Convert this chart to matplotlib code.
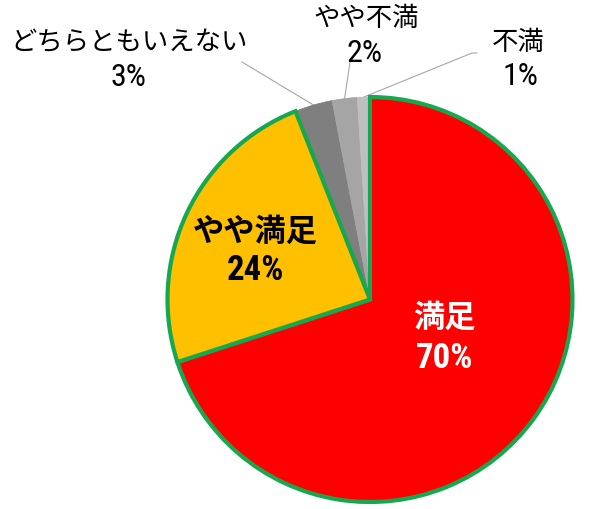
import matplotlib
matplotlib.use("Agg")
import matplotlib.pyplot as plt
import numpy as np
from matplotlib import font_manager

categories = ["満足", "やや満足", "どちらともいえない", "やや不満", "不満"]
values = [70, 24, 3, 2, 1]
pct_labels = ["70%", "24%", "3%", "2%", "1%"]
colors = ["#FF0000", "#FFC000", "#7F7F7F", "#A5A5A5", "#BFBFBF"]

available = {f.name for f in font_manager.fontManager.ttflist}
narrow = None
for n in ["Liberation Sans Narrow", "DejaVu Sans Condensed", "Roboto Condensed", "Open Sans Condensed"]:
    if n in available:
        narrow = n
        break
if narrow is None:
    narrow = "Liberation Sans"
cjk = "Noto Sans CJK JP"
plt.rcParams['font.family'] = [cjk, 'DejaVu Sans']

W, H = 589, 509
fig = plt.figure(figsize=(W / 100, H / 100), dpi=100)
ax = fig.add_axes([0, 0, 1, 1])
cx, cy, R = 370.0, 299.5, 202.5

wedges, _ = ax.pie(values, colors=colors, startangle=90, counterclock=False,
                   radius=1.0, center=(0, 0), frame=True)
ax.axis("off")
ax.set_xlim((0 - cx) / R, (W - cx) / R)
ax.set_ylim((cy - H) / R, (cy - 0) / R)
ax.set_aspect("auto")

green = "#16A84F"
for i, w in enumerate(wedges):
    if i < 2:
        w.set_edgecolor(green)
        w.set_linewidth(3.0)
        w.set_zorder(3)
    else:
        w.set_edgecolor(colors[i])
        w.set_linewidth(0.5)
        w.set_zorder(2)

def px(p, q):
    return ((p - cx) / R, (cy - q) / R)

mids = [np.deg2rad((w.theta1 + w.theta2) / 2) for w in wedges]

name_pos = [px(444, 318), px(255, 232), px(129.5, 43), px(366, 18), px(518, 42)]
pct_pos = [px(444.5, 359), px(255.5, 271), px(128, 77), px(365, 53), px(520, 76)]
inside = [True, True, False, False, False]
txt_colors = ["white", "black", "black", "black", "black"]

for i in range(len(values)):
    if inside[i]:
        fs_n, fs_p, wt = 22.5, 25, "bold"
    else:
        fs_n, fs_p, wt = 19, 23, "normal"
    ax.text(*name_pos[i], categories[i], ha="center", va="center", fontsize=fs_n,
            fontweight=wt, color=txt_colors[i], family=[cjk, 'DejaVu Sans'], zorder=5)
    ax.text(*pct_pos[i], pct_labels[i], ha="center", va="center", fontsize=fs_p,
            fontweight=wt, color=txt_colors[i], family=[narrow, 'DejaVu Sans'], zorder=5)

lead_start = {2: [px(242, 62)], 3: [px(350, 62)], 4: [px(477, 53), px(472, 53)]}
for i, pts in lead_start.items():
    ex, ey = np.cos(mids[i]), np.sin(mids[i])
    xs = [p[0] for p in pts] + [ex]
    ys = [p[1] for p in pts] + [ey]
    ax.plot(xs, ys, color="#A6A6A6", lw=0.8, zorder=1)

fig.savefig("out.png", dpi=100)
